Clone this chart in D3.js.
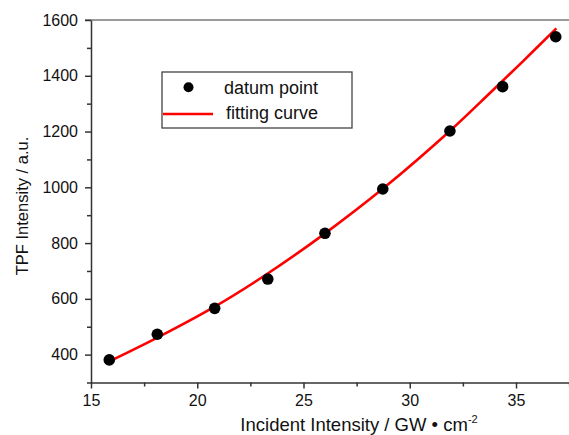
<!DOCTYPE html>
<html>
<head>
<meta charset="utf-8">
<script src="https://cdn.jsdelivr.net/npm/d3@7"></script>
<style>
  body { margin: 0; background: #fff; }
  svg { display: block; font-family: "Liberation Sans", Arial, sans-serif; }
</style>
</head>
<body>
<div id="chart"></div>
<script>
// measured points
const incident = [15.86, 18.12, 20.82, 23.32, 26.01, 28.73, 31.89, 34.37, 36.87];
const tpf = [381, 473, 566, 671, 835, 994, 1202, 1361, 1540];

// fitting curve
const fitX = [15.9, 18.1, 20.8, 23.3, 26.0, 28.8, 31.9, 33.8, 35.3, 36.9];
const fitY = [377, 460, 571, 690, 834, 999, 1203, 1340, 1450, 1570];

const xMajor = [15, 20, 25, 30, 35];
const xMinor = [17.5, 22.5, 27.5, 32.5, 37.5];
const yMajor = [400, 600, 800, 1000, 1200, 1400, 1600];
const yMinor = [300, 500, 700, 900, 1100, 1300, 1500];

const width = 569, height = 435;
const margin = { left: 91, top: 20, bottom: 52.5 };

const x = d3.scaleLinear().domain([15, 38]).range([margin.left, margin.left + 23 * 21.25]);
const y = d3.scaleLinear().domain([300, 1600]).range([height - margin.bottom, margin.top]);

const svg = d3.select("#chart")
  .append("svg")
  .attr("width", width)
  .attr("height", height);

// top frame line
svg.append("line")
  .attr("x1", x(15) - 6).attr("x2", width)
  .attr("y1", y(1600)).attr("y2", y(1600))
  .attr("stroke", "#7a7a7a")
  .attr("stroke-width", 1.6);

const axisColor = "#333";

svg.append("g")
  .attr("transform", `translate(0,${y(300)})`)
  .call(d3.axisBottom(x).tickValues(xMajor).tickFormat(d3.format("d"))
    .tickSize(6).tickSizeOuter(0).tickPadding(6));
svg.append("g")
  .attr("transform", `translate(0,${y(300)})`)
  .call(d3.axisBottom(x).tickValues(xMinor).tickSize(4).tickFormat("").tickSizeOuter(0))
  .select(".domain").remove();

svg.append("g")
  .attr("transform", `translate(${x(15)},0)`)
  .call(d3.axisLeft(y).tickValues(yMajor).tickFormat(d3.format("d"))
    .tickSize(6).tickSizeOuter(0).tickPadding(7));
svg.append("g")
  .attr("transform", `translate(${x(15)},0)`)
  .call(d3.axisLeft(y).tickValues(yMinor).tickSize(4).tickFormat("").tickSizeOuter(0))
  .select(".domain").remove();

svg.selectAll(".domain, .tick line")
  .attr("stroke", axisColor)
  .attr("stroke-width", 1.5);
svg.selectAll(".tick text")
  .attr("fill", "#111")
  .attr("font-size", "16px")
  .attr("font-family", "Liberation Sans, Arial, sans-serif");

// axis titles
svg.append("text")
  .attr("x", 359)
  .attr("y", 431)
  .attr("text-anchor", "middle")
  .attr("font-size", "18.5px")
  .attr("fill", "#111")
  .text("Incident Intensity / GW • cm")
  .append("tspan")
  .attr("dy", -8)
  .attr("font-size", "11px")
  .text("-2");

svg.append("text")
  .attr("transform", `translate(28,${206}) rotate(-90)`)
  .attr("text-anchor", "middle")
  .attr("font-size", "16.5px")
  .attr("fill", "#111")
  .text("TPF Intensity / a.u.");

// fitting curve
const fit = fitX.map((d, i) => [d, fitY[i]]);
svg.append("path")
  .datum(fit)
  .attr("fill", "none")
  .attr("stroke", "#f00")
  .attr("stroke-width", 2.6)
  .attr("d", d3.line().x(d => x(d[0])).y(d => y(d[1])).curve(d3.curveCatmullRom));

// data points
svg.append("g")
  .selectAll("circle")
  .data(incident.map((d, i) => [d, tpf[i]]))
  .enter().append("circle")
  .attr("cx", d => x(d[0]))
  .attr("cy", d => y(d[1]))
  .attr("r", 5.8)
  .attr("fill", "#000");

// legend
const legend = svg.append("g");
legend.append("rect")
  .attr("x", 162).attr("y", 72)
  .attr("width", 190).attr("height", 56)
  .attr("fill", "#fff")
  .attr("stroke", "#444")
  .attr("stroke-width", 1.3);
legend.append("circle")
  .attr("cx", 188.5).attr("cy", 87.3)
  .attr("r", 5)
  .attr("fill", "#000");
legend.append("line")
  .attr("x1", 163).attr("x2", 213)
  .attr("y1", 114).attr("y2", 114)
  .attr("stroke", "#f00")
  .attr("stroke-width", 2.6);
legend.append("text")
  .attr("x", 224).attr("y", 93.5)
  .attr("font-size", "18px")
  .attr("fill", "#111")
  .text("datum point");
legend.append("text")
  .attr("x", 226).attr("y", 118.5)
  .attr("font-size", "18px")
  .attr("fill", "#111")
  .text("fitting curve");
</script>
</body>
</html>
